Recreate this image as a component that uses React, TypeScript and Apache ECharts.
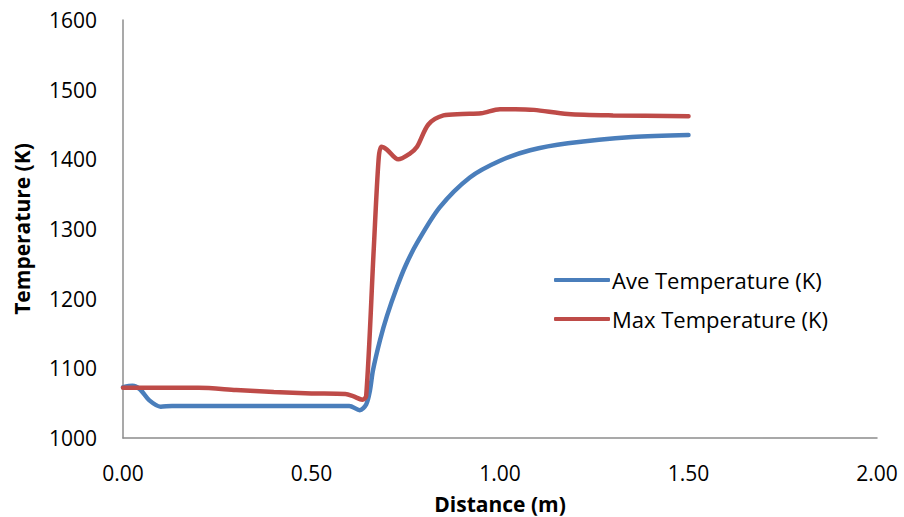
import React, { useEffect, useRef } from "react";
import * as echarts from "echarts";

const aveDistance = [0, 0.025, 0.045, 0.07, 0.1, 0.13, 0.2, 0.3, 0.4, 0.5, 0.6, 0.628, 0.645, 0.655, 0.663, 0.682, 0.7, 0.727, 0.75, 0.78, 0.84, 0.92, 1.0, 1.08, 1.18, 1.35, 1.5];
const aveTemp = [1073, 1075, 1070, 1054, 1045, 1046, 1046, 1046, 1046, 1046, 1046, 1040, 1048, 1068, 1097, 1141, 1175, 1217, 1248, 1280, 1331, 1374, 1398, 1413, 1423, 1432, 1435];

const maxDistance = [0, 0.1, 0.2, 0.3, 0.4, 0.5, 0.59, 0.61, 0.635, 0.645, 0.665, 0.678, 0.685, 0.7, 0.73, 0.76, 0.78, 0.81, 0.85, 0.9, 0.95, 1.0, 1.04, 1.09, 1.18, 1.3, 1.5];
const maxTemp = [1072, 1072, 1072, 1069, 1066, 1064, 1063, 1060, 1055, 1060, 1270, 1400, 1418, 1414, 1400, 1408, 1418, 1450, 1463, 1465, 1466, 1472, 1472, 1471, 1465, 1463, 1462];

const seriesNames = ["Ave Temperature (K)", "Max Temperature (K)"];
const xTicks = { min: 0, max: 2, interval: 0.5 };
const yTicks = { min: 1000, max: 1600, interval: 100 };

const FONT = "'Open Sans', sans-serif";

export default function App() {
  const ref = useRef<HTMLDivElement>(null);
  useEffect(() => {
    document.body.style.margin = "0";
    const chart = echarts.init(ref.current!, null, { renderer: "svg" });
    const axisLine = { show: true, lineStyle: { color: "#8c8c8c", width: 1.5 } };
    chart.setOption({
      animation: false,
      backgroundColor: "#ffffff",
      textStyle: { fontFamily: FONT },
      grid: { left: 123, top: 20, right: 27, bottom: 79, containLabel: false, outerBoundsMode: "none" },
      legend: {
        orient: "vertical",
        left: 549,
        top: 264,
        itemWidth: 56,
        itemHeight: 4,
        itemGap: 17,
        icon: "roundRect",
        textStyle: { fontSize: 22, lineHeight: 22, color: "#000", fontFamily: FONT, padding: [0, 0, 0, -3] },
        data: seriesNames,
      },
      xAxis: {
        type: "value",
        min: xTicks.min,
        max: xTicks.max,
        interval: xTicks.interval,
        axisLine,
        axisTick: { show: false },
        splitLine: { show: false },
        axisLabel: { fontSize: 21, color: "#000", margin: 24, formatter: (v: number) => v.toFixed(2) },
        name: "Distance (m)",
        nameLocation: "middle",
        nameGap: 55,
        nameTextStyle: { fontSize: 21, lineHeight: 22, fontWeight: "bold", color: "#000" },
      },
      yAxis: {
        type: "value",
        min: yTicks.min,
        max: yTicks.max,
        interval: yTicks.interval,
        axisLine,
        axisTick: { show: false },
        splitLine: { show: false },
        axisLabel: { fontSize: 21, color: "#000", margin: 26, formatter: (v: number) => String(v) },
        name: "Temperature (K)",
        nameLocation: "middle",
        nameRotate: 90,
        nameGap: 90,
        nameTextStyle: { fontSize: 21, lineHeight: 22, fontWeight: "bold", color: "#000" },
      },
      series: [
        {
          name: seriesNames[0],
          type: "line",
          data: aveDistance.map((d, i) => [d, aveTemp[i]]),
          showSymbol: false,
          smooth: 0.3,
          lineStyle: { color: "#4A7EBB", width: 4.5, cap: "round" },
          itemStyle: { color: "#4A7EBB" },
        },
        {
          name: seriesNames[1],
          type: "line",
          data: maxDistance.map((d, i) => [d, maxTemp[i]]),
          showSymbol: false,
          smooth: 0.3,
          lineStyle: { color: "#BE4B48", width: 4.5, cap: "round" },
          itemStyle: { color: "#BE4B48" },
        },
      ],
    });
    return () => chart.dispose();
  }, []);
  return <div ref={ref} style={{ width: 904, height: 517 }} />;
}
